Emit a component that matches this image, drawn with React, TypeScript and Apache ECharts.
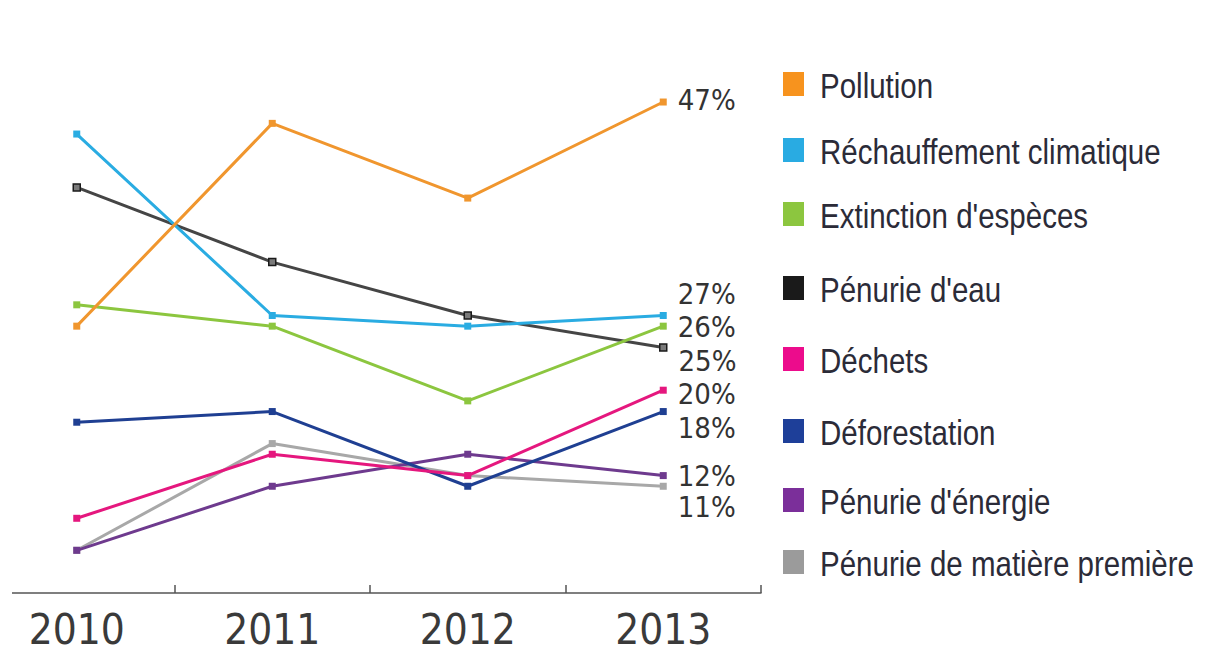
import React, { useEffect, useRef } from "react";
import * as echarts from "echarts";

const years = ["2010", "2011", "2012", "2013"];

const seriesNames = [
  "Pollution",
  "Réchauffement climatique",
  "Extinction d'espèces",
  "Pénurie d'eau",
  "Déchets",
  "Déforestation",
  "Pénurie d'énergie",
  "Pénurie de matière première",
];

const pollution = [26, 45, 38, 47];
const rechauffement = [44, 27, 26, 27];
const extinction = [28, 26, 19, 26];
const penurieEau = [39, 32, 27, 24];
const dechets = [8, 14, 12, 20];
const deforestation = [17, 18, 11, 18];
const penurieEnergie = [5, 11, 14, 12];
const penurieMatiere = [5, 15, 12, 11];

const endLabels = ["47%", "27%", "26%", "25%", "20%", "18%", "12%", "11%"];

const colors = ["#F0962E", "#2AACE2", "#8CC63F", "#454545", "#E5177E", "#1F3F92", "#6E3A8E", "#A8A8A8"];
const legendColors = ["#F7931E", "#29ABE2", "#8CC63F", "#1A1A1A", "#EC0C8C", "#1E3F99", "#7B2F9A", "#9B9B9B"];

// layout (styling only)
const labelOffsets = [-2, -21, 1, 13, 4, 16, 0, 21];
const legendRowY = [84, 150, 214, 288, 359, 431, 500, 562];
const SHIFT = 21; // the chart div starts 21px left of the page

const allValues = [pollution, rechauffement, extinction, penurieEau, dechets, deforestation, penurieEnergie, penurieMatiere];

export default function App() {
  const ref = useRef<HTMLDivElement>(null);
  useEffect(() => {
    if (!ref.current) return;
    const chart = echarts.init(ref.current, null, { renderer: "svg" });
    const font = "'Liberation Sans', Arial, sans-serif";
    const series = seriesNames.map((name, si) => ({
      name,
      type: "line",
      data: allValues[si].map((v, i) =>
        i === allValues[si].length - 1
          ? {
              value: v,
              label: {
                show: true,
                formatter: endLabels[si],
                position: "right",
                distance: 11,
                offset: [0, labelOffsets[si]],
                fontSize: 29,
                lineHeight: 26,
                fontFamily: "'DejaVu Sans Condensed', sans-serif",
                color: "#333333",
              },
            }
          : v
      ),
      symbol: "rect",
      symbolSize: 7,
      showSymbol: true,
      lineStyle: { color: colors[si], width: 3 },
      itemStyle:
        si === 3
          ? { color: "#7a7a7a", borderColor: "#1a1a1a", borderWidth: 1.5 }
          : { color: colors[si] },
      color: legendColors[si],
      z: 10 - si,
    }));

    const legendGraphics: any[] = [];
    seriesNames.forEach((name, i) => {
      legendGraphics.push({
        type: "rect",
        x: 783 + SHIFT,
        y: legendRowY[i] - 12,
        shape: { width: 21, height: 24 },
        style: { fill: legendColors[i] },
      });
      legendGraphics.push({
        type: "text",
        x: 820 + SHIFT,
        y: legendRowY[i] + 1,
        scaleX: 0.82,
        style: {
          text: name,
          fontSize: 36,
          fontFamily: font,
          fill: "#2b2b38",
          textVerticalAlign: "middle",
          verticalAlign: "middle",
        },
      });
    });

    chart.setOption({
      animation: false,
      grid: { left: 0, width: 782, top: 70, bottom: 62 },
      xAxis: {
        type: "category",
        data: years,
        boundaryGap: true,
        axisLine: { lineStyle: { color: "#555555", width: 1.5 } },
        axisTick: { show: true, inside: true, length: 8, lineStyle: { color: "#555555", width: 1.5 } },
        axisLabel: { fontSize: 42, fontFamily: "'DejaVu Sans Condensed', sans-serif", color: "#3a3a3a", margin: 15 },
      },
      yAxis: { type: "value", min: 1, max: 50, show: false, splitLine: { show: false } },
      graphic: [
        { type: "rect", x: 0, y: 586, shape: { width: 12 + SHIFT, height: 12 }, style: { fill: "#ffffff" }, z: 100 },
        ...legendGraphics,
      ],
      series,
    });
    return () => chart.dispose();
  }, []);
  return (
    <div
      ref={ref}
      style={{ position: "absolute", left: -SHIFT, top: 0, width: 1207 + SHIFT, height: 655, background: "#fff" }}
    />
  );
}
